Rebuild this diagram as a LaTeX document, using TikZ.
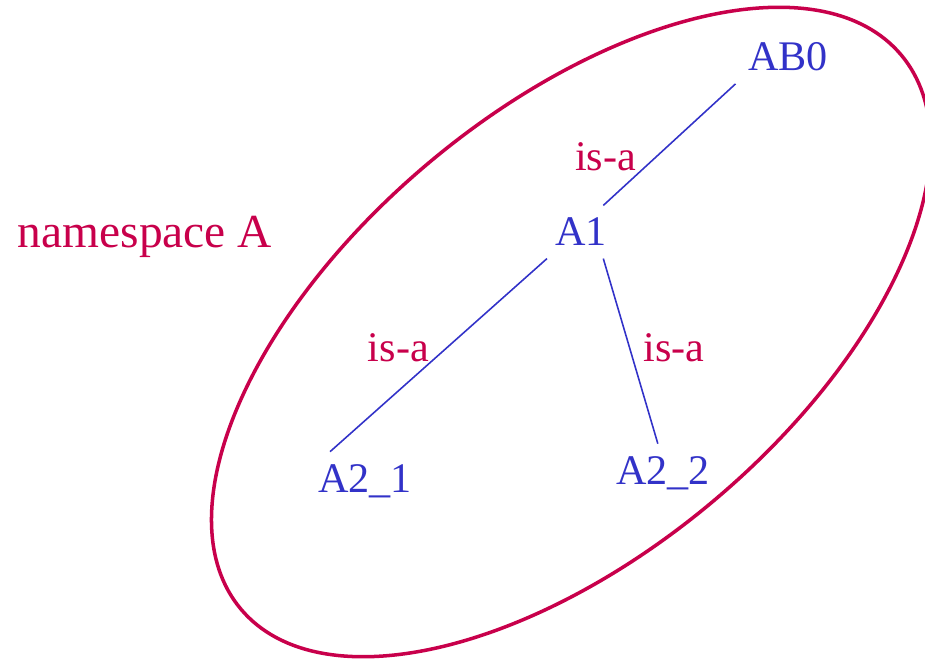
\documentclass[tikz,border=0pt]{standalone}
\usepackage{fontspec}
\setmainfont{Liberation Serif}
\usetikzlibrary{positioning}

\definecolor{nsred}{RGB}{200,0,75}
\definecolor{clsblue}{RGB}{50,50,200}

\begin{document}
\begin{tikzpicture}[
    x=0.02cm, y=-0.02cm, % one unit is one pixel of the drawing
    every node/.style={font=\fontsize{24}{28}\selectfont},
    cls/.style={text=clsblue, inner sep=7pt},
    isa/.style={text=nsred, inner sep=3pt},
    link/.style={draw=clsblue, line width=0.9pt}
]
    \useasboundingbox (0,0) rectangle (925,659);

    % the namespace
    \draw [nsred, line width=2pt] (571,332) ellipse [x radius=431, y radius=221, rotate=40];
    \node (ns) [text=nsred, font=\fontsize{27}{31}\selectfont] at (145,237) {namespace A};

    % Place the classes
    \node (ab0) [cls] at (788,57) {AB0};
    \node (a1) [cls] at (581,232) {A1};
    \node (a21) [cls] at (365,481) {A2\_1};
    \node (a22) [cls] at (663,473) {A2\_2};

    % Draw the is-a links with labels
    \draw [link] (ab0.south west) -- node[isa, pos=0.6, left=8pt] {is-a} (a1.50);
    \draw [link] (a1.218) -- node[isa, pos=0.46, left=7pt] {is-a} (a21.140);
    \draw [link] (a1.-50) -- node[isa, pos=0.48, right=4.5pt] {is-a} (a22.100);
\end{tikzpicture}
\end{document}
